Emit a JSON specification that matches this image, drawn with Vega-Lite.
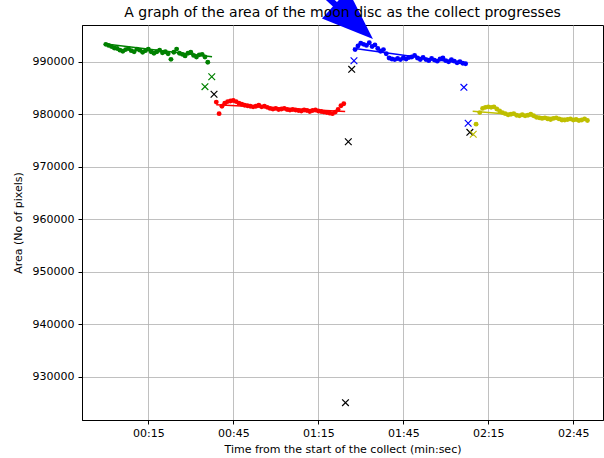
{
  "$schema": "https://vega.github.io/schema/vega-lite/v6.json",
  "autosize": {"type": "none"},
  "width": 521,
  "height": 395,
  "padding": {"left": 82, "top": 25, "right": 1, "bottom": 38},
  "background": "white",
  "title": {"text": "A graph of the area of the moon disc as the collect progresses", "font": "DejaVu Sans", "fontSize": 14, "fontWeight": "normal", "color": "black", "offset": 6, "dy": 41},
  "config": {
    "view": {"stroke": "black", "strokeWidth": 1},
    "axis": {"labelFont": "DejaVu Sans", "titleFont": "DejaVu Sans", "labelFontSize": 11, "titleFontSize": 11, "titleFontWeight": "normal", "labelColor": "black", "titleColor": "black", "domainColor": "black", "tickColor": "black", "tickSize": 4, "gridColor": "#b0b0b0", "gridWidth": 0.8}
  },
  "datasets": {
    "pts": [
      {"t":0,"area":993300,"s":"g"},{"t":1,"area":993100,"s":"g"},{"t":2,"area":992900,"s":"g"},{"t":3,"area":992600,"s":"g"},{"t":4,"area":992500,"s":"g"},{"t":5,"area":992200,"s":"g"},{"t":6,"area":992000,"s":"g"},{"t":7,"area":992300,"s":"g"},{"t":8,"area":992500,"s":"g"},{"t":9,"area":992100,"s":"g"},{"t":10,"area":991900,"s":"g"},{"t":11,"area":992400,"s":"g"},{"t":12,"area":992200,"s":"g"},{"t":13,"area":991800,"s":"g"},{"t":14,"area":992100,"s":"g"},{"t":15,"area":992400,"s":"g"},{"t":16,"area":991900,"s":"g"},{"t":17,"area":991600,"s":"g"},{"t":18,"area":991900,"s":"g"},{"t":19,"area":992200,"s":"g"},{"t":20,"area":991700,"s":"g"},{"t":21,"area":991900,"s":"g"},{"t":22,"area":991500,"s":"g"},{"t":23,"area":990450,"s":"g"},{"t":24,"area":991800,"s":"g"},{"t":25,"area":992400,"s":"g"},{"t":26,"area":991600,"s":"g"},{"t":27,"area":991400,"s":"g"},{"t":28,"area":991100,"s":"g"},{"t":29,"area":991600,"s":"g"},{"t":30,"area":991800,"s":"g"},{"t":31,"area":991200,"s":"g"},{"t":32,"area":990900,"s":"g"},{"t":33,"area":991300,"s":"g"},{"t":34,"area":991400,"s":"g"},{"t":35,"area":990900,"s":"g"},{"t":36,"area":989900,"s":"g"},
      {"t":39,"area":982300,"s":"r"},{"t":40,"area":980100,"s":"r"},{"t":41,"area":981500,"s":"r"},{"t":42,"area":982100,"s":"r"},{"t":43,"area":982400,"s":"r"},{"t":44,"area":982500,"s":"r"},{"t":45,"area":982600,"s":"r"},{"t":46,"area":982400,"s":"r"},{"t":47,"area":982100,"s":"r"},{"t":48,"area":981900,"s":"r"},{"t":49,"area":981700,"s":"r"},{"t":50,"area":981600,"s":"r"},{"t":51,"area":981500,"s":"r"},{"t":52,"area":981400,"s":"r"},{"t":53,"area":981500,"s":"r"},{"t":54,"area":981700,"s":"r"},{"t":55,"area":981400,"s":"r"},{"t":56,"area":981500,"s":"r"},{"t":57,"area":981300,"s":"r"},{"t":58,"area":981100,"s":"r"},{"t":59,"area":981000,"s":"r"},{"t":60,"area":981100,"s":"r"},{"t":61,"area":980900,"s":"r"},{"t":62,"area":981000,"s":"r"},{"t":63,"area":981100,"s":"r"},{"t":64,"area":980900,"s":"r"},{"t":65,"area":980800,"s":"r"},{"t":66,"area":980900,"s":"r"},{"t":67,"area":980800,"s":"r"},{"t":68,"area":980700,"s":"r"},{"t":69,"area":980600,"s":"r"},{"t":70,"area":980800,"s":"r"},{"t":71,"area":980700,"s":"r"},{"t":72,"area":980500,"s":"r"},{"t":73,"area":980700,"s":"r"},{"t":74,"area":980800,"s":"r"},{"t":75,"area":980600,"s":"r"},{"t":76,"area":980500,"s":"r"},{"t":77,"area":980400,"s":"r"},{"t":78,"area":980300,"s":"r"},{"t":79,"area":980200,"s":"r"},{"t":80,"area":980100,"s":"r"},{"t":81,"area":980400,"s":"r"},{"t":82,"area":980900,"s":"r"},{"t":83,"area":981600,"s":"r"},{"t":84,"area":982000,"s":"r"},
      {"t":88,"area":992300,"s":"b"},{"t":89,"area":993000,"s":"b"},{"t":90,"area":993500,"s":"b"},{"t":91,"area":993300,"s":"b"},{"t":92,"area":993100,"s":"b"},{"t":93,"area":993600,"s":"b"},{"t":94,"area":992900,"s":"b"},{"t":95,"area":993200,"s":"b"},{"t":96,"area":992500,"s":"b"},{"t":97,"area":992000,"s":"b"},{"t":98,"area":992300,"s":"b"},{"t":99,"area":991500,"s":"b"},{"t":100,"area":990700,"s":"b"},{"t":101,"area":990500,"s":"b"},{"t":102,"area":990400,"s":"b"},{"t":103,"area":990600,"s":"b"},{"t":104,"area":990400,"s":"b"},{"t":105,"area":990700,"s":"b"},{"t":106,"area":990500,"s":"b"},{"t":107,"area":990800,"s":"b"},{"t":108,"area":990900,"s":"b"},{"t":109,"area":991200,"s":"b"},{"t":110,"area":990700,"s":"b"},{"t":111,"area":990400,"s":"b"},{"t":112,"area":990800,"s":"b"},{"t":113,"area":990400,"s":"b"},{"t":114,"area":990200,"s":"b"},{"t":115,"area":990600,"s":"b"},{"t":116,"area":990300,"s":"b"},{"t":117,"area":990100,"s":"b"},{"t":118,"area":990500,"s":"b"},{"t":119,"area":990700,"s":"b"},{"t":120,"area":990200,"s":"b"},{"t":121,"area":990000,"s":"b"},{"t":122,"area":990400,"s":"b"},{"t":123,"area":990100,"s":"b"},{"t":124,"area":989800,"s":"b"},{"t":125,"area":990000,"s":"b"},{"t":126,"area":989700,"s":"b"},{"t":127,"area":989600,"s":"b"},
      {"t":130.7,"area":978100,"s":"y"},{"t":132,"area":980300,"s":"y"},{"t":133,"area":981100,"s":"y"},{"t":134,"area":981300,"s":"y"},{"t":135,"area":981400,"s":"y"},{"t":136,"area":981300,"s":"y"},{"t":137,"area":981400,"s":"y"},{"t":138,"area":981000,"s":"y"},{"t":139,"area":980600,"s":"y"},{"t":140,"area":980300,"s":"y"},{"t":141,"area":980100,"s":"y"},{"t":142,"area":979900,"s":"y"},{"t":143,"area":980000,"s":"y"},{"t":144,"area":980100,"s":"y"},{"t":145,"area":979800,"s":"y"},{"t":146,"area":979700,"s":"y"},{"t":147,"area":979900,"s":"y"},{"t":148,"area":979700,"s":"y"},{"t":149,"area":979800,"s":"y"},{"t":150,"area":980000,"s":"y"},{"t":151,"area":979700,"s":"y"},{"t":152,"area":979400,"s":"y"},{"t":153,"area":979300,"s":"y"},{"t":154,"area":979200,"s":"y"},{"t":155,"area":979300,"s":"y"},{"t":156,"area":979100,"s":"y"},{"t":157,"area":979000,"s":"y"},{"t":158,"area":979200,"s":"y"},{"t":159,"area":979300,"s":"y"},{"t":160,"area":979100,"s":"y"},{"t":161,"area":978900,"s":"y"},{"t":162,"area":978900,"s":"y"},{"t":163,"area":979000,"s":"y"},{"t":164,"area":979100,"s":"y"},{"t":165,"area":978900,"s":"y"},{"t":166,"area":979000,"s":"y"},{"t":167,"area":978800,"s":"y"},{"t":168,"area":978900,"s":"y"},{"t":169,"area":979100,"s":"y"},{"t":170,"area":978800,"s":"y"}
    ],
    "fit": [
      {"t":0,"area":993350,"s":"g"},{"t":37.5,"area":990950,"s":"g"},
      {"t":39,"area":981800,"s":"r"},{"t":84.5,"area":980500,"s":"r"},
      {"t":87.3,"area":992550,"s":"b"},{"t":127.5,"area":989550,"s":"b"},
      {"t":129.5,"area":980550,"s":"y"},{"t":170.5,"area":978800,"s":"y"}
    ],
    "xs": [
      {"t":35.0,"area":985240,"s":"g"},{"t":37.4,"area":987140,"s":"g"},
      {"t":38.2,"area":983790,"s":"k"},
      {"t":85.6,"area":974760,"s":"k"},{"t":84.6,"area":925050,"s":"k"},{"t":86.8,"area":988550,"s":"k"},
      {"t":87.6,"area":990190,"s":"b"},
      {"t":126.4,"area":985120,"s":"b"},{"t":127.9,"area":978270,"s":"b"},
      {"t":128.5,"area":976550,"s":"k"},{"t":129.7,"area":976170,"s":"y"}
    ],
    "shaft": [{"t1":74.65,"a1":1004040,"t2":82.7,"a2":1000040}],
    "head": [{"t":87.6,"area":997640}]
  },
  "layer": [
    {
      "data": {"name": "pts"},
      "mark": {"type": "point", "filled": true, "opacity": 1, "size": 24},
      "encoding": {
        "x": {"field": "t", "type": "quantitative", "scale": {"domain": [-8.4, 175.5], "nice": false, "zero": false},
          "axis": {"title": "Time from the start of the collect (min:sec)", "values": [15, 45, 75, 105, 135, 165], "labelExpr": "utcFormat(datum.value * 1000, '%M:%S')", "labelPadding": 3, "titlePadding": 5}},
        "y": {"field": "area", "type": "quantitative", "scale": {"domain": [921750, 996990], "nice": false, "zero": false},
          "axis": {"title": "Area (No of pixels)", "values": [930000, 940000, 950000, 960000, 970000, 980000, 990000], "format": "d", "labelPadding": 4, "titlePadding": 9}},
        "color": {"field": "s", "type": "nominal", "scale": {"domain": ["g", "r", "b", "y", "k"], "range": ["#008000", "#ff0000", "#0000ff", "#bfbf00", "#000000"]}, "legend": null}
      }
    },
    {
      "data": {"name": "fit"},
      "mark": {"type": "line", "strokeWidth": 1.5},
      "encoding": {
        "x": {"field": "t", "type": "quantitative"},
        "y": {"field": "area", "type": "quantitative"},
        "color": {"field": "s", "type": "nominal", "legend": null}
      }
    },
    {
      "data": {"name": "xs"},
      "mark": {"type": "point", "shape": "M-1,-1L1,1M-1,1L1,-1", "filled": false, "opacity": 1, "size": 45, "strokeWidth": 1.2},
      "encoding": {
        "x": {"field": "t", "type": "quantitative"},
        "y": {"field": "area", "type": "quantitative"},
        "color": {"field": "s", "type": "nominal", "legend": null}
      }
    },
    {
      "data": {"name": "shaft"},
      "mark": {"type": "rule", "color": "#0000ff", "strokeWidth": 6},
      "encoding": {
        "x": {"field": "t1", "type": "quantitative"},
        "y": {"field": "a1", "type": "quantitative"},
        "x2": {"field": "t2"},
        "y2": {"field": "a2"}
      }
    },
    {
      "data": {"name": "head"},
      "mark": {"type": "point", "shape": "M0,-1L0.75,1L-0.75,1Z", "filled": true, "opacity": 1, "size": 2652, "angle": 132.5, "color": "#0000ff"},
      "encoding": {
        "x": {"field": "t", "type": "quantitative"},
        "y": {"field": "area", "type": "quantitative"}
      }
    }
  ]
}
